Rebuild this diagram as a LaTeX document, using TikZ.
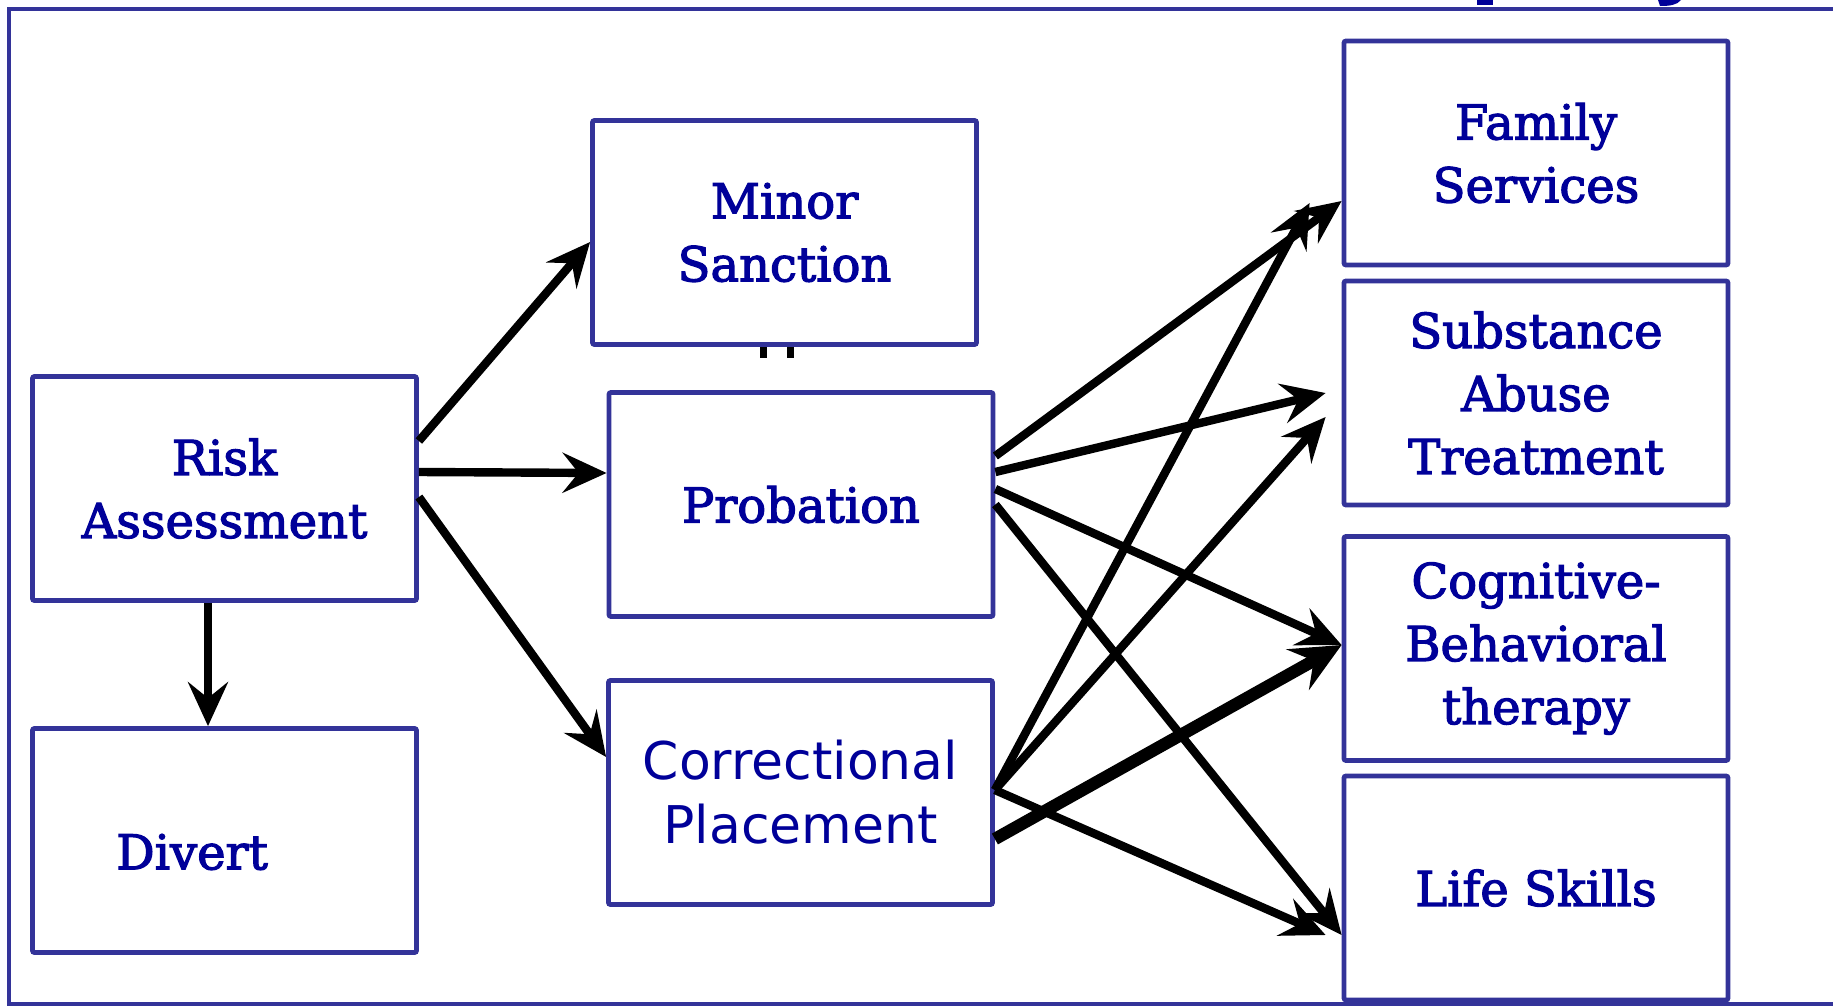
\documentclass[tikz,border=0pt]{standalone}
\usepackage{fontspec}
\setmainfont{DejaVu Serif}
\newfontfamily\sansfam{DejaVu Sans}
\usetikzlibrary{arrows.meta}
\definecolor{framecol}{RGB}{51,51,153}
\definecolor{labelcol}{RGB}{0,0,153}
% slab labels: filled and lightly stroked for a heavier stem
\newcommand\slabtext{\fontsize{24}{31.5}\selectfont\special{pdf:literal direct 2 Tr 0.6 w}}
\newcommand\plaintextmode{\special{pdf:literal direct 0 Tr}}
\newcommand\sanstext{\sansfam\fontsize{26}{32}\selectfont}
\begin{document}
\begin{tikzpicture}[x=0.5pt,y=-0.5pt,
  box/.style={draw=framecol, line width=2.4pt, rounded corners=1pt,
    minimum width=192pt, minimum height=112pt, inner sep=0pt,
    align=center, text=labelcol, font=\slabtext,
    execute at end node=\plaintextmode},
  flow/.style={draw=black, line width=4.2pt,
    -{Stealth[length=22pt,width=20pt,inset=8pt]}},
  heavy/.style={draw=black, line width=6.2pt,
    -{Stealth[length=25pt,width=23pt,inset=9pt]}}]
\useasboundingbox (0,0) rectangle (1833,1007);

% outer frame, open on the right
\draw[framecol, line width=2.4pt] (1840,9) -- (9,9) -- (9,1004) -- (1840,1004);

% descenders of the heading above the frame
\fill[labelcol] (1477,0) rectangle (1493,5);
\fill[labelcol] (1658,0) -- (1681,0) .. controls (1677,5) and (1670,6) .. (1660,6) -- cycle;

% left column
\node[box] (risk) at (224.5,488.5) {Risk\\Assessment};
\node[box] (divert) at (224.5,840.5) {};
\node[text=labelcol, font=\slabtext, inner sep=0pt,
  execute at end node=\plaintextmode] (divertlabel) at (192,852) {Divert};

% middle column
\node[box] (minor) at (784.5,232.5) {Minor\\Sanction};
\node[box] (prob) at (801,504.5) {Probation};
\node[box, font=\sanstext] (corr) at (800.5,792.5) {Correctional\\Placement};

% right column
\node[box] (fam) at (1536,153) {Family\\Services};
\node[box] (sub) at (1536,393) {Substance\\Abuse\\Treatment};
\node[box] (cog) at (1536,648.5) {Cognitive-\\Behavioral\\therapy};
\node[box] (life) at (1536,888) {Life Skills};

% stubs under Minor Sanction
\fill[black] (760,347) rectangle (767,358);
\fill[black] (787,347) rectangle (794,358);

% risk assessment outcomes
\draw[flow] ([yshift=23.75pt]risk.east) -- ([yshift=-4.75pt]minor.west);
\draw[flow] ([yshift=8.25pt]risk.east) -- ([yshift=15.75pt]prob.west);
\draw[flow] ([yshift=-4.25pt]risk.east) -- ([yshift=17.75pt]corr.west);
\draw[flow] ([xshift=-8.25pt]risk.south) -- ([xshift=-8.25pt]divert.north);

% probation services
\draw[flow] ([yshift=24.25pt]prob.east) -- ([yshift=-24pt]fam.west);
\draw[flow] ([yshift=16.25pt]prob.east) -- ([xshift=-8pt]sub.west);
\draw[flow] ([yshift=7.75pt]prob.east) -- ([yshift=1.75pt]cog.west);
\draw[flow] (prob.east) -- ([yshift=-23.5pt]life.west);

% correctional placement services
\draw[flow] ([yshift=1.25pt]corr.east) -- ([xshift=-16pt,yshift=-25pt]fam.west);
\draw[flow] ([yshift=1.25pt]corr.east) -- ([xshift=-8pt,yshift=-12pt]sub.west);
\draw[heavy] ([yshift=-23.25pt]corr.east) -- ([yshift=1.75pt]cog.west);
\draw[flow] ([yshift=1.25pt]corr.east) -- ([xshift=-8pt,yshift=-23.5pt]life.west);
\end{tikzpicture}
\end{document}
